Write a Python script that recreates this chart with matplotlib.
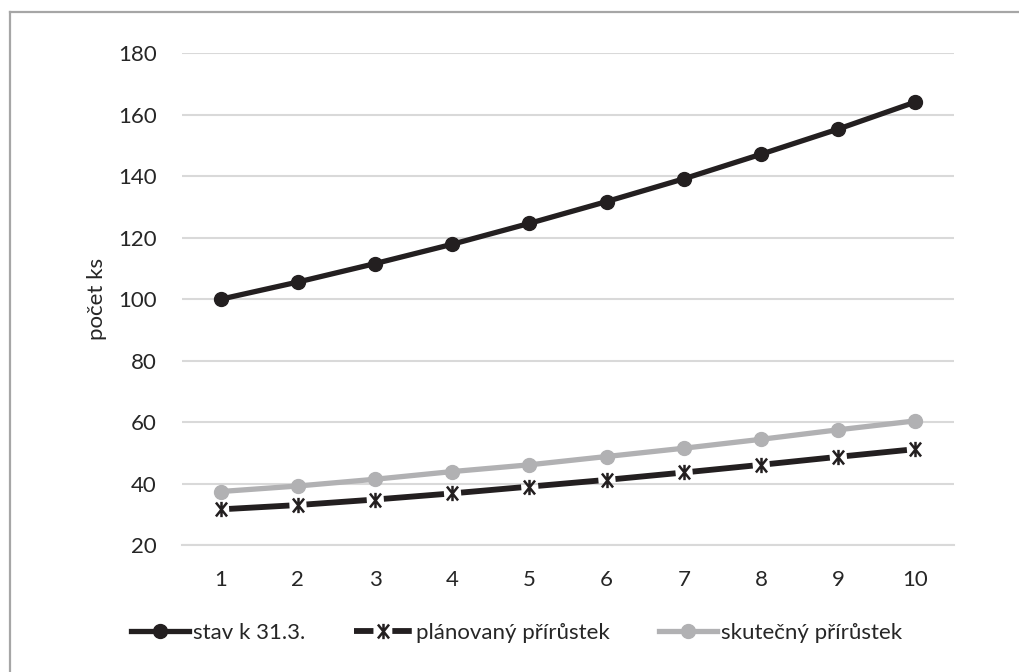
import matplotlib.pyplot as plt
from matplotlib.lines import Line2D
from matplotlib.path import Path

plt.rcParams['font.family'] = ['Lato', 'DejaVu Sans']
plt.rcParams['lines.scale_dashes'] = False

# data
x = [1, 2, 3, 4, 5, 6, 7, 8, 9, 10]
stav = [100, 105.6, 111.6, 117.9, 124.7, 131.8, 139.2, 147.2, 155.4, 164.2]
planovany = [31.6, 33.0, 34.8, 36.8, 39.0, 41.2, 43.6, 46.1, 48.7, 51.2]
skutecny = [37.4, 39.2, 41.4, 43.9, 46.1, 48.8, 51.5, 54.4, 57.5, 60.4]
yticks = [20, 40, 60, 80, 100, 120, 140, 160, 180]

text_col = '#262626'
dark = '#231f20'
grey = '#b1b1b3'

# excel-like star marker: an X with a vertical stroke
star = Path([(-0.4, -0.5), (0.4, 0.5), (-0.4, 0.5), (0.4, -0.5), (0, -0.55), (0, 0.55)],
            [Path.MOVETO, Path.LINETO, Path.MOVETO, Path.LINETO, Path.MOVETO, Path.LINETO])

fig = plt.figure(figsize=(10.19, 6.72), dpi=100)
ax = fig.add_axes([0.1786, 0.189, 0.7576, 0.7314])

# dash period ~ one category step, gaps centred on the markers
on, off = 43.5, 12.3
ax.plot(x, stav, color=dark, lw=3.8, marker='o', ms=10,
        label='stav k 31.3.', zorder=3)
ax.plot(x, planovany, color=dark, lw=4.2, ls=(on + off / 2, (on, off)),
        marker=star, ms=11, mew=1.8, mec=dark, mfc='none',
        label='plánovaný přírůstek', zorder=3)
ax.plot(x, skutecny, color=grey, lw=3.8, marker='o', ms=10,
        label='skutečný přírůstek', zorder=3)

ax.set_xlim(0.5, 10.5)
ax.set_ylim(20, 180)
ax.set_xticks(x)
ax.set_yticks(yticks)
ax.yaxis.grid(True, color='#d9d9d9', lw=1.5)
ax.set_axisbelow(True)
for s in ['top', 'right', 'left']:
    ax.spines[s].set_visible(False)
ax.spines['bottom'].set_color('#d9d9d9')
ax.spines['bottom'].set_linewidth(1.5)
ax.tick_params(length=0, labelsize=16, labelcolor=text_col)
ax.tick_params(axis='y', pad=18)
ax.tick_params(axis='x', pad=18)
ax.set_ylabel('počet ks', fontsize=16, color=text_col, labelpad=8)

handles = [
    Line2D([], [], color=dark, lw=3.8, marker='o', ms=10),
    Line2D([], [], color=dark, lw=4.2, ls=(0, (14, 13.6)), marker=star, ms=11,
           mew=1.8, mec=dark, mfc='none'),
    Line2D([], [], color=grey, lw=3.8, marker='o', ms=10),
]
labels = ['stav k 31.3.', 'plánovaný přírůstek', 'skutečný přírůstek']
fig.legend(handles, labels, loc='center', bbox_to_anchor=(0.507, 0.058), ncol=3,
           frameon=False, fontsize=16, labelcolor=text_col, handlelength=2.6,
           columnspacing=2.2, handletextpad=0.2)

# partial frame of the chart area (left and top only)
fig.add_artist(Line2D([10 / 1019, 10 / 1019], [0, 1 - 12 / 672],
                      color='#a6a6a6', lw=1.6, transform=fig.transFigure))
fig.add_artist(Line2D([10 / 1019, 1], [1 - 12 / 672, 1 - 12 / 672],
                      color='#a6a6a6', lw=1.6, transform=fig.transFigure))

fig.savefig('out.png', dpi=100)
